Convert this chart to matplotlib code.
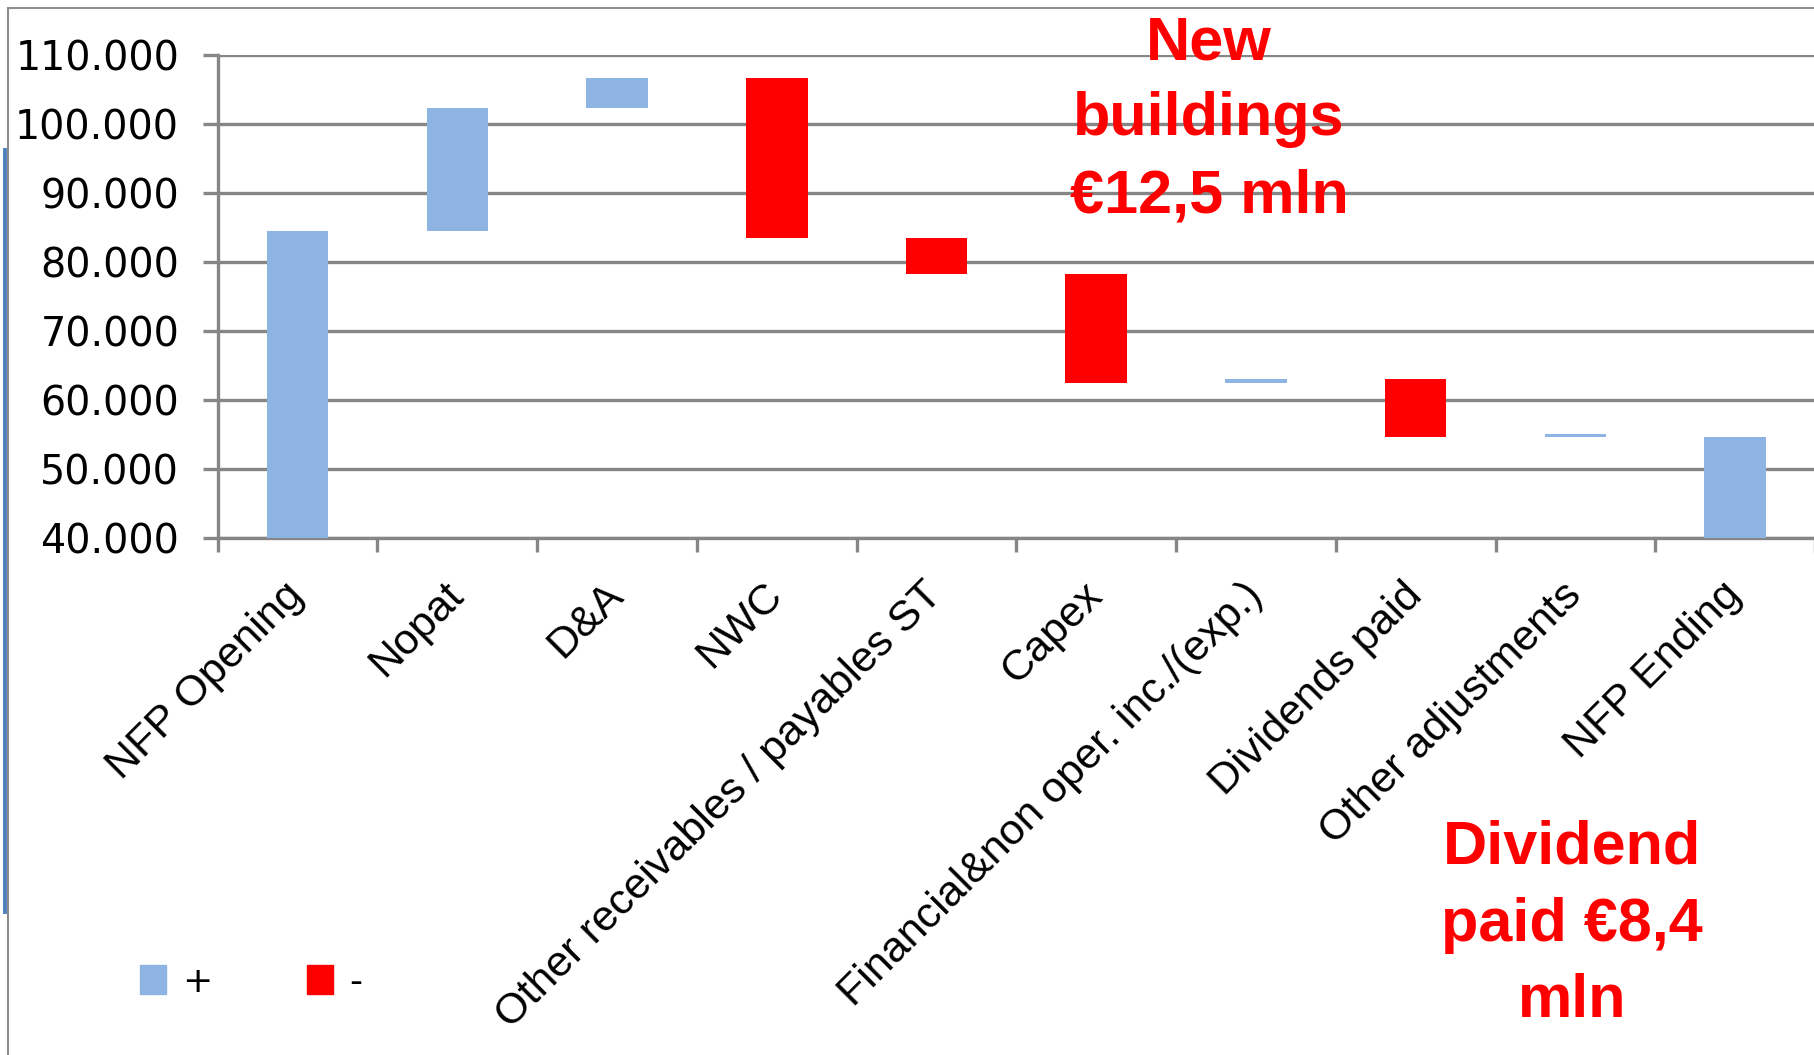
import numpy as np
import matplotlib
matplotlib.use('Agg')
import matplotlib.pyplot as plt
from matplotlib.patches import Patch, Rectangle
from matplotlib.lines import Line2D
from matplotlib.ticker import FuncFormatter

# data (thousands of euro)
categories = ['NFP Opening', 'Nopat', 'D&A', 'NWC',
              'Other receivables / payables ST', 'Capex',
              'Financial&non oper. inc./(exp.)', 'Dividends paid',
              'Other adjustments', 'NFP Ending']
bar_low = [0, 84500, 102350, 83450, 78200, 62450, 62450, 54550, 54550, 0]
bar_high = [84500, 102350, 106600, 106600, 83450, 78200, 62950, 62950, 55050, 54550]
bar_sign = ['+', '+', '+', '-', '-', '-', '+', '-', '+', '+']
y_ticks = [40000, 50000, 60000, 70000, 80000, 90000, 100000, 110000]

BLUE = '#8EB4E3'
RED = '#FF0000'
GRID = '#868686'

W, H = 1815, 1055
fig = plt.figure(figsize=(W / 100, H / 100), dpi=100)
ax = fig.add_axes([217.75 / W, 1 - 537.7 / H, 1 - 217.75 / W, (537.7 - 55) / H])

x = np.arange(len(categories))
heights = np.array(bar_high) - np.array(bar_low)
colors = [BLUE if s == '+' else RED for s in bar_sign]
ax.bar(x, heights, bottom=bar_low, width=0.385, color=colors, linewidth=0, zorder=3)

ax.set_xlim(-0.5, len(categories) - 0.5)
ax.set_ylim(40000, 110000)
ax.set_yticks(y_ticks)
ax.yaxis.set_major_formatter(FuncFormatter(lambda v, p: f"{v:,.0f}".replace(',', '.')))
ax.yaxis.grid(True, color=GRID, linewidth=2.4)
ax.set_axisbelow(True)

for side in ['top', 'right']:
    ax.spines[side].set_visible(False)
for side in ['left', 'bottom']:
    ax.spines[side].set_color(GRID)
    ax.spines[side].set_linewidth(2.4)

ax.tick_params(axis='y', length=10.8, width=2.4, color=GRID, pad=17,
               labelsize=28.5, labelcolor='black')
for lab in ax.get_yticklabels():
    lab.set_fontfamily('DejaVu Sans')

ax.set_xticks(x)
ax.set_xticklabels(categories, rotation=45, ha='right', va='center',
                   rotation_mode='anchor', fontsize=31, family='Liberation Sans')
ax.set_xticks(np.arange(-0.5, len(categories), 1), minor=True)
ax.tick_params(axis='x', which='major', length=0, pad=37)
ax.tick_params(axis='x', which='minor', length=10, width=2.4, color=GRID)

# annotations
ann_font = dict(family='Liberation Sans', weight='bold', color=RED, fontsize=44,
                ha='center', va='baseline')
for txt, yb in zip(['New', 'buildings', '€12,5 mln'], [60, 135, 212]):
    fig.text(1209 / W, 1 - yb / H, txt, **ann_font)
for txt, yb in zip(['Dividend', 'paid €8,4', 'mln'], [863, 941, 1017]):
    fig.text(1572 / W, 1 - yb / H, txt, **ann_font)

# legend
handles = [Patch(color=BLUE, label='+'), Patch(color=RED, label='-')]
fig.legend(handles=handles, loc='center left', bbox_to_anchor=(140 / W, 1 - 982 / H),
           ncol=2, frameon=False, fontsize=26, handlelength=0.72, handleheight=0.83,
           handletextpad=0.45, columnspacing=2.6, borderpad=0, borderaxespad=0)

# chart frame and left marker line
fig.patches.append(Rectangle((8 / W, -0.05), 1.1, 1.05 - 8 / H, transform=fig.transFigure,
                             fill=False, edgecolor='#8c8c8c', linewidth=1.5))
fig.lines.append(Line2D([5 / W, 5 / W], [1 - 150 / H, 1 - 912 / H], transform=fig.transFigure,
                        color='#4F81BD', linewidth=2.8))

fig.savefig('out.png', dpi=100)
